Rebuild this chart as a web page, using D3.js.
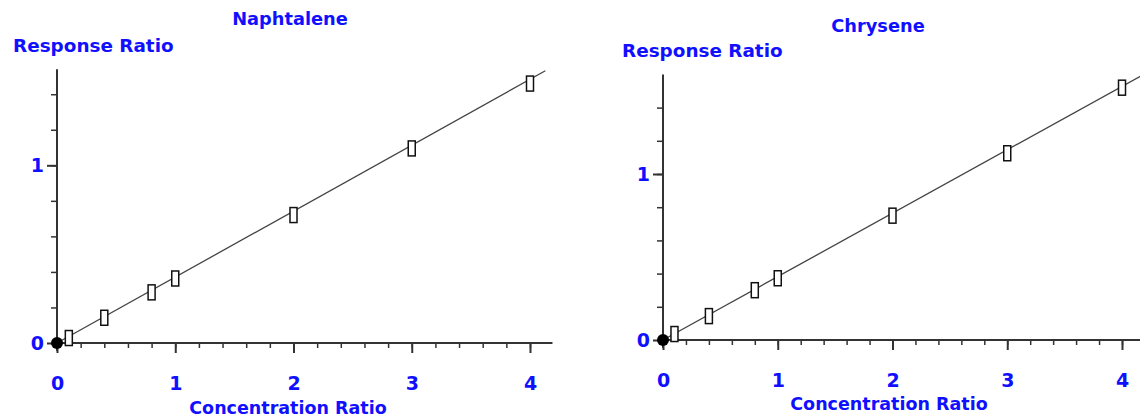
<!DOCTYPE html>
<html>
<head>
<meta charset="utf-8">
<script src="https://cdn.jsdelivr.net/npm/d3@7"></script>
<style>
  body { margin: 0; background: #fff; }
  text { font-family: "DejaVu Sans", sans-serif; font-weight: bold; fill: #1010ff; }
</style>
</head>
<body>
<script>
// data
let concRatio = [0.1, 0.4, 0.8, 1, 2, 3, 4];
let naphResp = [0.028, 0.142, 0.285, 0.363, 0.72, 1.095, 1.46];
let chrysResp = [0.036, 0.144, 0.30, 0.372, 0.749, 1.125, 1.52];
let fitSlope = [0.371, 0.382];      // calibration line slope per panel
let fitEnd = [4.13, 4.2];           // where the drawn line stops (x)
let titles = ["Naphtalene", "Chrysene"];
let xMajor = [0, 1, 2, 3, 4];
let yMajor = [0, 1];

let svg = d3.select("body").append("svg")
    .attr("width", 1140)
    .attr("height", 418);

// panel geometry (pixel layout only)
let panels = [
  {x0: 57, x4: 530, y0: 343, y1: 165.3, xEnd: 4.19, yTop: 1.54, resp: naphResp,
   titleX: 290, titleY: 25, ylabX: 13, ylabY: 52, xlabX: 288, xlabY: 414},
  {x0: 663, x4: 1122, y0: 340, y1: 174, xEnd: 4.3, yTop: 1.6, resp: chrysResp,
   titleX: 878, titleY: 32, ylabX: 622, ylabY: 57, xlabX: 889, xlabY: 410}
];

panels.forEach(function(p, i) {
  let x = d3.scaleLinear().domain([0, 4]).range([p.x0, p.x4]);
  let y = d3.scaleLinear().domain([0, 1]).range([p.y0, p.y1]);
  let g = svg.append("g");

  let minorX = d3.range(0, 4.21, 0.2).filter(function(v) { return v <= p.xEnd; });
  let minorY = d3.range(0, p.yTop, 0.2);

  // x axis: minor ticks, then major ticks with labels
  g.append("g")
    .attr("transform", "translate(0," + p.y0 + ")")
    .call(d3.axisBottom(x).tickValues(minorX).tickSize(5).tickFormat(""))
    .call(function(a) {
      a.select(".domain").attr("d", "M" + p.x0 + ",0H" + x(p.xEnd))
        .attr("stroke", "#333").attr("stroke-width", 2);
      a.selectAll("line").attr("stroke", "#333").attr("stroke-width", 1.5);
    });
  g.append("g")
    .attr("transform", "translate(0," + p.y0 + ")")
    .call(d3.axisBottom(x).tickValues(xMajor).tickSize(10).tickPadding(24).tickFormat(d3.format("d")))
    .call(function(a) {
      a.select(".domain").remove();
      a.selectAll("line").attr("stroke", "#333").attr("stroke-width", 2);
      a.selectAll("text").attr("font-size", 19).style("fill", "#1010ff");
    });

  // y axis
  g.append("g")
    .attr("transform", "translate(" + p.x0 + ",0)")
    .call(d3.axisLeft(y).tickValues(minorY).tickSize(6).tickFormat(""))
    .call(function(a) {
      a.select(".domain").attr("d", "M0," + y(p.yTop) + "V" + (p.y0 + 8))
        .attr("stroke", "#333").attr("stroke-width", 2);
      a.selectAll("line").attr("stroke", "#333").attr("stroke-width", 1.5);
    });
  g.append("g")
    .attr("transform", "translate(" + p.x0 + ",0)")
    .call(d3.axisLeft(y).tickValues(yMajor).tickSize(10).tickPadding(3).tickFormat(d3.format("d")))
    .call(function(a) {
      a.select(".domain").remove();
      a.selectAll("line").attr("stroke", "#333").attr("stroke-width", 2);
      a.selectAll("text").attr("font-size", 19).style("fill", "#1010ff");
    });

  // calibration line
  g.append("line")
    .attr("x1", x(0)).attr("y1", y(0))
    .attr("x2", x(fitEnd[i])).attr("y2", y(fitSlope[i] * fitEnd[i]))
    .attr("stroke", "#444").attr("stroke-width", 1.3);

  // standards
  g.selectAll(".pt")
    .data(concRatio.map(function(c, k) { return {c: c, r: p.resp[k]}; }))
    .enter().append("rect")
    .attr("class", "pt")
    .attr("x", function(d) { return x(d.c) - 3.5; })
    .attr("y", function(d) { return y(d.r) - 7.5; })
    .attr("width", 7)
    .attr("height", 15)
    .attr("fill", "#fff")
    .attr("stroke", "#111")
    .attr("stroke-width", 1.5);

  // origin point
  g.append("circle")
    .attr("cx", x(0)).attr("cy", y(0)).attr("r", 6)
    .attr("fill", "#000");

  // texts
  g.append("text").attr("x", p.titleX).attr("y", p.titleY)
    .attr("text-anchor", "middle").attr("font-size", 17.8).text(titles[i]);
  g.append("text").attr("x", p.ylabX).attr("y", p.ylabY)
    .attr("font-size", 18.4).text("Response Ratio");
  g.append("text").attr("x", p.xlabX).attr("y", p.xlabY)
    .attr("text-anchor", "middle").attr("font-size", 17.5).text("Concentration Ratio");
});
</script>
</body>
</html>
